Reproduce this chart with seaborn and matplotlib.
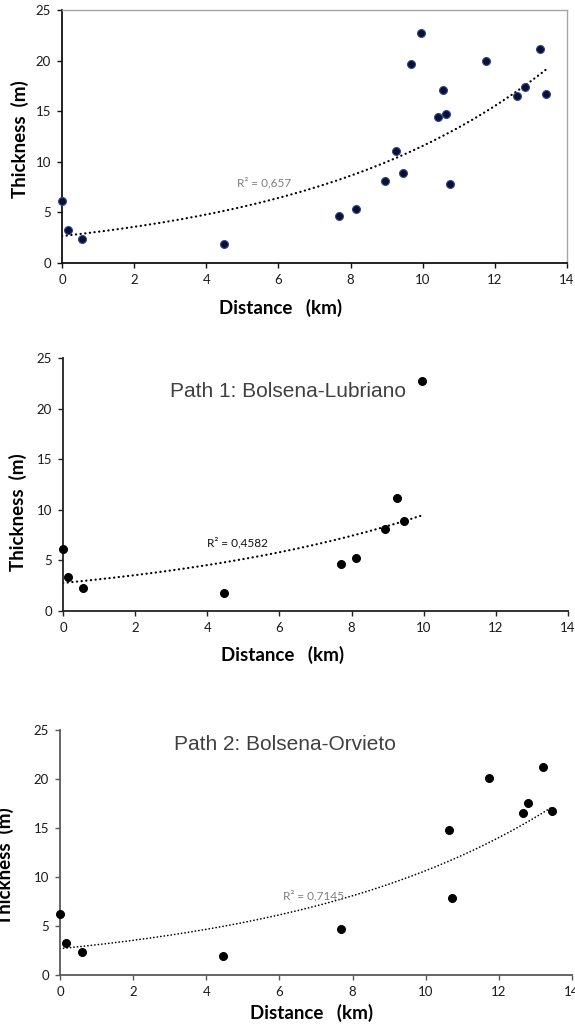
import numpy as np
import pandas as pd
import matplotlib
matplotlib.use("Agg")
import matplotlib.pyplot as plt
import seaborn as sns

sns.set_theme(style="white")
plt.rcParams['font.family'] = ['Lato', 'DejaVu Sans']

# ---------------- data ----------------
all_x = [0.0, 0.17, 0.55, 4.48, 7.69, 8.15, 8.95, 9.25, 9.45, 9.67, 9.96,
         10.43, 10.55, 10.64, 10.77, 11.75, 12.62, 12.84, 13.26, 13.43]
all_y = [6.1, 3.26, 2.34, 1.91, 4.61, 5.37, 8.07, 11.1, 8.86, 19.66, 22.7,
         14.4, 17.1, 14.7, 7.77, 19.96, 16.5, 17.4, 21.15, 16.67]

p1_x = [0.0, 0.15, 0.56, 4.46, 7.70, 8.12, 8.93, 9.26, 9.44, 9.94]
p1_y = [6.15, 3.33, 2.24, 1.78, 4.67, 5.26, 8.09, 11.12, 8.88, 22.7]

p2_x = [0.0, 0.17, 0.59, 4.47, 7.68, 10.64, 10.73, 11.73, 12.65, 12.81, 13.22, 13.44]
p2_y = [6.26, 3.30, 2.35, 1.90, 4.73, 14.83, 7.82, 20.1, 16.5, 17.6, 21.2, 16.7]

r2_labels = ["R² = 0,657", "R² = 0,4582", "R² = 0,7145"]
titles = [None, "Path 1: Bolsena-Lubriano", "Path 2: Bolsena-Orvieto"]
xticks = [0, 2, 4, 6, 8, 10, 12, 14]
yticks = [0, 5, 10, 15, 20, 25]
xlabel = "Distance   (km)"
ylabel = "Thickness  (m)"

W, H = 575, 1029
fig = plt.figure(figsize=(W / 100, H / 100), dpi=100)


def px_axes(left, right, top, bottom):
    return fig.add_axes([left / W, 1 - bottom / H, (right - left) / W, (bottom - top) / H])


def exp_fit(x, y):
    x = np.asarray(x, float)
    y = np.asarray(y, float)
    b, lna = np.polyfit(x, np.log(y), 1)
    xs = np.linspace(x.min(), x.max(), 200)
    return pd.DataFrame({"x": xs, "y": np.exp(lna) * np.exp(b * xs)})


specs = [
    dict(x=all_x, y=all_y, box=(62, 567, 10, 263), face="#0b1030", edge="#2a4590",
         spine="#111111", boxspine=True, lw_trend=1.6, r2pos=(0.401, 0.316), r2col="#7f7f7f",
         xlab=(0.432, -0.178), ylab=(-0.083, 0.49), tpos=None),
    dict(x=p1_x, y=p1_y, box=(63, 568, 358, 611), face="black", edge="black",
         spine="#222222", boxspine=False, lw_trend=1.6, r2pos=(0.3455, 0.27), r2col="#111111",
         xlab=(0.434, -0.174), ylab=(-0.089, 0.39), tpos=(0.446, 0.866)),
    dict(x=p2_x, y=p2_y, box=(60, 572, 730, 975), face="black", edge="black",
         spine="#595959", boxspine=False, lw_trend=1.2, r2pos=(0.495, 0.322), r2col="#7f7f7f",
         xlab=(0.492, -0.155), ylab=(-0.107, 0.445), tpos=(0.44, 0.939)),
]

for i, sp in enumerate(specs):
    ax = px_axes(*sp["box"])
    df = pd.DataFrame({"x": sp["x"], "y": sp["y"]})
    fit = exp_fit(sp["x"], sp["y"])
    sns.lineplot(data=fit, x="x", y="y", ax=ax, color="black", lw=sp["lw_trend"],
                 linestyle=(0, (0.1, 2.0)), dash_capstyle="round", zorder=2)
    sns.scatterplot(data=df, x="x", y="y", ax=ax, s=32, color=sp["face"],
                    edgecolor=sp["edge"], linewidth=0.8, zorder=3, clip_on=False)
    ax.set_xlim(0, 14)
    ax.set_ylim(0, 25)
    ax.set_xticks(xticks)
    ax.set_yticks(yticks)
    ax.tick_params(axis="both", direction="out", length=3.5, width=1, color=sp["spine"],
                   labelsize=9.5, labelcolor="#1a1a1a", pad=4.5, bottom=True, left=True)
    for s in ["left", "bottom"]:
        ax.spines[s].set_color(sp["spine"])
        ax.spines[s].set_linewidth(1.3)
    if sp["boxspine"]:
        for s in ["top", "right"]:
            ax.spines[s].set_color("#a6a6a6")
            ax.spines[s].set_linewidth(1.0)
    else:
        ax.spines["top"].set_visible(False)
        ax.spines["right"].set_visible(False)
    ax.set_xlabel(xlabel, fontsize=13.5, fontweight="bold", color="black")
    ax.set_ylabel(ylabel, fontsize=13.5, fontweight="bold", color="black")
    ax.xaxis.set_label_coords(*sp["xlab"])
    ax.yaxis.set_label_coords(*sp["ylab"])
    ax.xaxis.label.set_va("center")
    ax.yaxis.label.set_va("center")
    ax.text(sp["r2pos"][0], sp["r2pos"][1], r2_labels[i], transform=ax.transAxes,
            fontsize=8.5, color=sp["r2col"], ha="center", va="center")
    if titles[i]:
        ax.text(sp["tpos"][0], sp["tpos"][1], titles[i], transform=ax.transAxes,
                fontsize=15, color="#404040", ha="center", va="center",
                family=["Liberation Sans", "DejaVu Sans"])
    ax.set_facecolor("white")

fig.savefig("out.png", dpi=100, facecolor="white")
